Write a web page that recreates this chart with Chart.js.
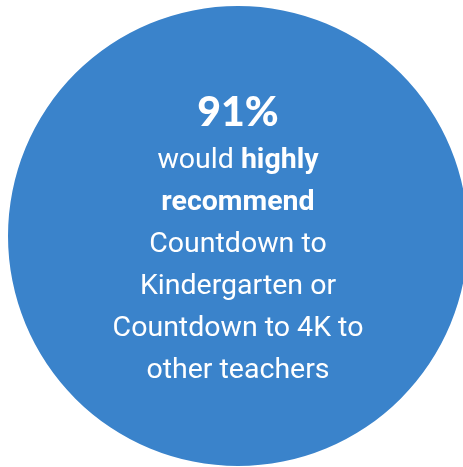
<!DOCTYPE html>
<html>
<head>
<meta charset="utf-8">
<script src="https://cdn.jsdelivr.net/npm/chart.js"></script>
<style>
  html, body { margin: 0; padding: 0; background: #fff; overflow: hidden; }
  body { width: 463px; height: 467px; position: relative; }
  #wrap { position: absolute; left: 8px; top: 6px; width: 460px; height: 460px; }
</style>
</head>
<body>
<div id="wrap"><canvas id="chart"></canvas></div>
<script>
// Single share shown as a full disc
var labels = ['Would highly recommend'];
var values = [91];
var headline = '91%';
// Each line is a list of [text, bold]
var lines = [
  [['would ', false], ['highly', true]],
  [['recommend', true]],
  [['Countdown to', false]],
  [['Kindergarten or', false]],
  [['Countdown to 4K to', false]],
  [['other teachers', false]]
];

var centerText = {
  id: 'centerText',
  afterDraw: function(chart) {
    var arc = chart.getDatasetMeta(0).data[0];
    var cx = arc.x, cy = arc.y;
    var ctx = chart.ctx;
    ctx.save();
    ctx.fillStyle = '#ffffff';
    ctx.textBaseline = 'alphabetic';
    ctx.textAlign = 'left';

    // Headline
    ctx.font = '900 41px Lato, "Open Sans", sans-serif';
    var w = ctx.measureText(headline).width;
    ctx.fillText(headline, cx - w / 2, cy - 110);

    // Body lines
    var regular = '400 28.5px Roboto, sans-serif';
    var bold = '700 28.5px Roboto, sans-serif';
    var top = cy - 68;
    lines.forEach(function(line, i) {
      var total = 0;
      line.forEach(function(seg) {
        ctx.font = seg[1] ? bold : regular;
        total += ctx.measureText(seg[0]).width;
      });
      var x = cx - total / 2;
      line.forEach(function(seg) {
        ctx.font = seg[1] ? bold : regular;
        ctx.fillText(seg[0], x, top + i * 42);
        x += ctx.measureText(seg[0]).width;
      });
    });
    ctx.restore();
  }
};

new Chart(document.getElementById('chart'), {
  type: 'pie',
  data: {
    labels: labels,
    datasets: [{
      data: values,
      backgroundColor: ['#3a83cb'],
      borderWidth: 0
    }]
  },
  options: {
    responsive: true,
    maintainAspectRatio: false,
    animation: false,
    layout: { padding: 0 },
    plugins: {
      legend: { display: false },
      tooltip: { enabled: false }
    }
  },
  plugins: [centerText]
});
</script>
</body>
</html>
